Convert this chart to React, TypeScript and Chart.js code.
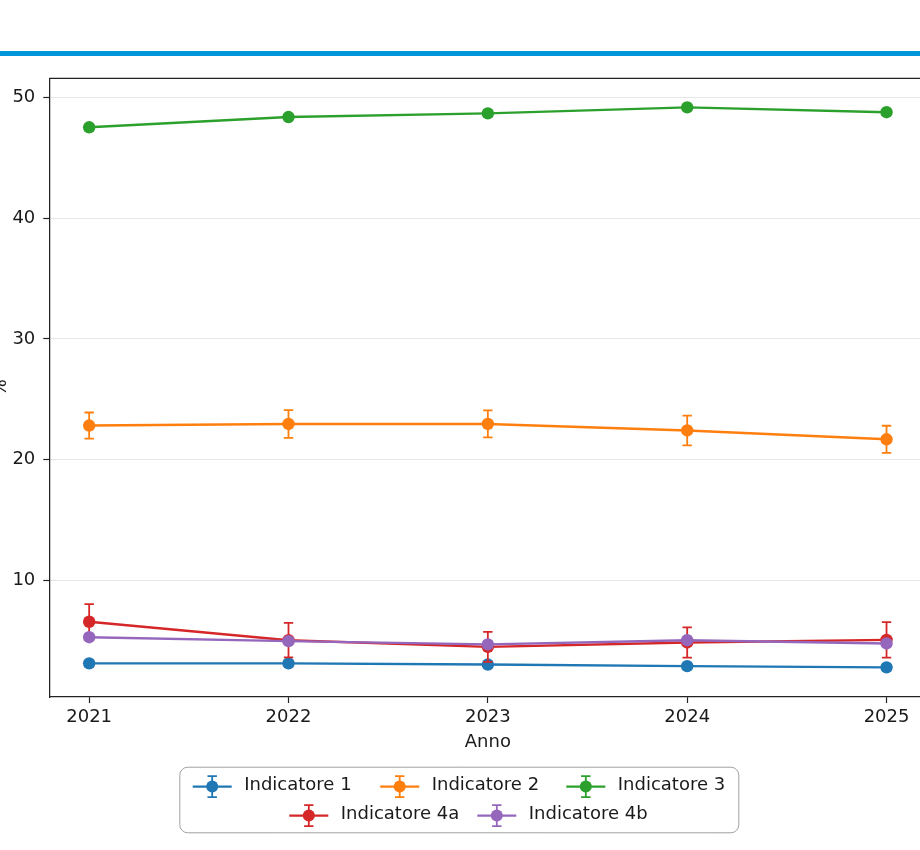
import React, { useEffect, useRef } from "react";
import { Chart, registerables } from "chart.js";

Chart.register(...registerables);

// ---- data ----
const years = [2021, 2022, 2023, 2024, 2025];
const yTickValues = [10, 20, 30, 40, 50];
const seriesNames = ["Indicatore 1", "Indicatore 2", "Indicatore 3", "Indicatore 4a", "Indicatore 4b"];
const seriesColors = ["#1f77b4", "#ff7f0e", "#2ca02c", "#d62728", "#9467bd"];

const ind1 = [3.1, 3.1, 3.0, 2.87, 2.77];
const ind1Err = [0.25, 0.25, 0.25, 0.25, 0.25];
const ind2 = [22.82, 22.95, 22.95, 22.41, 21.68];
const ind2Err = [1.08, 1.15, 1.12, 1.23, 1.12];
const ind3 = [47.55, 48.4, 48.7, 49.2, 48.8];
const ind3Err = [0.25, 0.25, 0.25, 0.25, 0.25];
const ind4a = [6.55, 5.02, 4.47, 4.83, 5.05];
const ind4aErr = [1.46, 1.43, 1.24, 1.25, 1.47];
const ind4b = [5.27, 4.94, 4.67, 5.02, 4.75];
const ind4bErr = [0.25, 0.25, 0.25, 0.25, 0.25];

const seriesValues = [ind1, ind2, ind3, ind4a, ind4b];
const seriesErrors = [ind1Err, ind2Err, ind3Err, ind4aErr, ind4bErr];

const xAxisTitle = "Anno";
const yAxisTitle = "%";

// ---- styling / layout ----
const FONT = "'DejaVu Sans'";
const TEXT = "#1a1a1a";
const CANVAS_W = 960;
const CANVAS_H = 850;
const PLOT_LEFT = 49.3;
const PLOT_RIGHT = 926.4;
const PLOT_TOP = 78.3;
const PLOT_BOTTOM = 697;

const legendPos = [
  { x: 192.7, y: 786.6 },
  { x: 380.2, y: 786.6 },
  { x: 566.3, y: 786.6 },
  { x: 289.3, y: 815.6 },
  { x: 477.3, y: 815.6 },
];

const errorBarPlugin = {
  id: "errorBars",
  beforeDatasetDraw(chart: any, args: any) {
    const ds = chart.data.datasets[args.index];
    const errs = ds.errors;
    if (!errs) return;
    const ctx = chart.ctx;
    const ys = chart.scales.y;
    ctx.save();
    ctx.strokeStyle = ds.borderColor;
    ctx.lineWidth = 1.8;
    args.meta.data.forEach((pt: any, i: number) => {
      const v = ds.data[i].y;
      const e = errs[i];
      const top = ys.getPixelForValue(v + e);
      const bot = ys.getPixelForValue(v - e);
      const x = pt.x;
      ctx.beginPath();
      ctx.moveTo(x, top);
      ctx.lineTo(x, bot);
      ctx.moveTo(x - 4.7, top);
      ctx.lineTo(x + 4.7, top);
      ctx.moveTo(x - 4.7, bot);
      ctx.lineTo(x + 4.7, bot);
      ctx.stroke();
    });
    ctx.restore();
  },
};

const decorPlugin = {
  id: "decor",
  afterDraw(chart: any) {
    const ctx = chart.ctx;
    const ca = chart.chartArea;
    ctx.save();
    // top / right spines
    ctx.strokeStyle = "#222";
    ctx.lineWidth = 1.25;
    ctx.beginPath();
    ctx.moveTo(ca.left, ca.top);
    ctx.lineTo(ca.right, ca.top);
    ctx.moveTo(ca.right, ca.top);
    ctx.lineTo(ca.right, ca.bottom);
    ctx.stroke();

    // axis titles
    ctx.fillStyle = TEXT;
    ctx.font = `18px ${FONT}`;
    ctx.textAlign = "center";
    ctx.textBaseline = "middle";
    ctx.fillText(xAxisTitle, (ca.left + ca.right) / 2, 742.3);
    ctx.save();
    ctx.translate(6, (ca.top + ca.bottom) / 2);
    ctx.rotate(-Math.PI / 2);
    ctx.textBaseline = "alphabetic";
    ctx.fillText(yAxisTitle, 0, 0);
    ctx.restore();

    // legend box
    ctx.beginPath();
    (ctx as any).roundRect(179.8, 767.2, 559, 65.6, 8);
    ctx.fillStyle = "rgba(255,255,255,0.85)";
    ctx.fill();
    ctx.strokeStyle = "#a0a0a0";
    ctx.lineWidth = 1;
    ctx.stroke();

    seriesNames.forEach((name, i) => {
      const p = legendPos[i];
      const col = seriesColors[i];
      const cx = p.x + 19.5;
      ctx.strokeStyle = col;
      ctx.lineWidth = 2.4;
      ctx.beginPath();
      ctx.moveTo(p.x, p.y);
      ctx.lineTo(p.x + 39, p.y);
      ctx.stroke();
      ctx.lineWidth = 1.8;
      ctx.beginPath();
      ctx.moveTo(cx, p.y - 10.5);
      ctx.lineTo(cx, p.y + 10.5);
      ctx.moveTo(cx - 4.7, p.y - 10.5);
      ctx.lineTo(cx + 4.7, p.y - 10.5);
      ctx.moveTo(cx - 4.7, p.y + 10.5);
      ctx.lineTo(cx + 4.7, p.y + 10.5);
      ctx.stroke();
      ctx.fillStyle = col;
      ctx.beginPath();
      ctx.arc(cx, p.y, 6, 0, Math.PI * 2);
      ctx.fill();
      ctx.fillStyle = TEXT;
      ctx.font = `18px ${FONT}`;
      ctx.textAlign = "left";
      ctx.textBaseline = "middle";
      ctx.fillText(name, p.x + 51.5, p.y - 0.8);
    });
    ctx.restore();
  },
};

export default function App() {
  const ref = useRef<HTMLCanvasElement>(null);

  useEffect(() => {
    if (!ref.current) return;
    const datasets = seriesNames.map((name, i) => ({
      label: name,
      data: years.map((yr, j) => ({ x: yr, y: seriesValues[i][j] })),
      errors: seriesErrors[i],
      borderColor: seriesColors[i],
      backgroundColor: seriesColors[i],
      pointBackgroundColor: seriesColors[i],
      pointBorderWidth: 0,
      pointRadius: 6.2,
      borderWidth: 2.4,
      tension: 0,
      order: seriesNames.length - i,
    }));

    const chart = new Chart(ref.current, {
      type: "line",
      data: { datasets } as any,
      plugins: [errorBarPlugin, decorPlugin],
      options: {
        animation: false,
        responsive: false,
        devicePixelRatio: 1,
        layout: {
          padding: { left: 0, top: PLOT_TOP, right: CANVAS_W - PLOT_RIGHT, bottom: 0 },
        },
        plugins: {
          legend: { display: false },
          tooltip: { enabled: false },
        },
        scales: {
          x: {
            type: "linear",
            min: 2020.8,
            max: 2025.2,
            afterBuildTicks: (axis: any) => {
              axis.ticks = years.map((v) => ({ value: v }));
            },
            afterFit: (scale: any) => {
              scale.height = CANVAS_H - PLOT_BOTTOM;
            },
            ticks: {
              color: TEXT,
              font: { family: FONT, size: 18 },
              padding: 3.2,
              maxRotation: 0,
              autoSkip: false,
              callback: (v: any) => String(v),
            },
            grid: {
              drawOnChartArea: false,
              drawTicks: true,
              tickLength: 6,
              tickColor: "#222",
              tickWidth: 1.2,
            },
            border: { color: "#222", width: 1.25 },
          },
          y: {
            type: "linear",
            min: 0.31,
            max: 51.61,
            afterBuildTicks: (axis: any) => {
              axis.ticks = yTickValues.map((v) => ({ value: v }));
            },
            afterFit: (scale: any) => {
              scale.width = PLOT_LEFT;
            },
            ticks: {
              color: TEXT,
              font: { family: FONT, size: 18 },
              padding: 8,
              callback: (v: any) => String(v),
            },
            grid: {
              color: "#e6e6e6",
              lineWidth: 1,
              drawTicks: true,
              tickLength: 6,
              tickColor: "#222",
              tickWidth: 1.2,
            },
            border: { color: "#222", width: 1.25 },
          },
        },
      } as any,
    });
    return () => chart.destroy();
  }, []);

  return (
    <div
      style={{
        position: "fixed",
        left: 0,
        top: 0,
        width: 920,
        height: 850,
        overflow: "hidden",
        background: "#fff",
      }}
    >
      <canvas
        ref={ref}
        width={CANVAS_W}
        height={CANVAS_H}
        style={{ position: "absolute", left: 0, top: 0, width: CANVAS_W, height: CANVAS_H }}
      />
      <div
        style={{
          position: "absolute",
          left: 0,
          top: 51,
          width: 920,
          height: 5,
          background: "#0096d9",
        }}
      />
    </div>
  );
}
